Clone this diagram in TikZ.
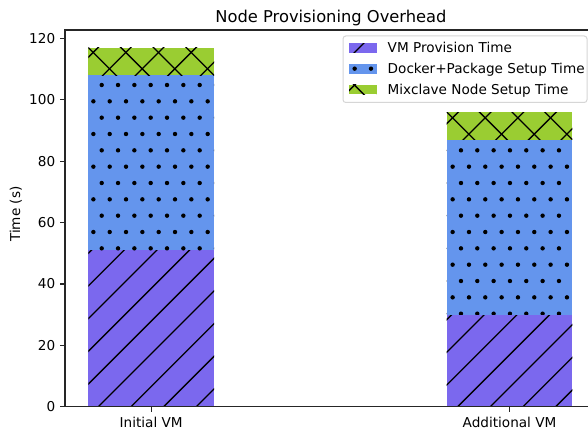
\documentclass[tikz,border=0pt]{standalone}
\usepackage{fontspec}
\setmainfont{DejaVu Sans}
\definecolor{vmcol}{HTML}{7B68EE}
\definecolor{dockcol}{HTML}{6495ED}
\definecolor{mixcol}{HTML}{9ACD32}
\definecolor{spinecol}{HTML}{262626}
\definecolor{framecol}{HTML}{D6D6D6}

\tikzset{
  hatchline/.style={black, line width=1.3pt},
  spine/.style={spinecol, line width=1.1pt},
  tickmark/.style={spinecol, line width=1.1pt},
  ticklabel/.style={inner sep=0pt, font=\fontsize{13.6}{16}\selectfont},
  legendtext/.style={inner sep=0pt, anchor=base west, font=\fontsize{13.6}{16}\selectfont},
}

% hatch fills for a box given as x0, y0 (top), x1, y1 (bottom)
\newcommand\hatchslash[4]{%
  \begin{scope}
    \clip (#1,#2) rectangle (#3,#4);
    \foreach \k in {-12,...,15} {
      \draw[hatchline] ({505+32.67*\k-450},450) -- ({505+32.67*\k+50},-50);
    }
  \end{scope}}
\newcommand\hatchcross[4]{%
  \begin{scope}
    \clip (#1,#2) rectangle (#3,#4);
    \foreach \k in {-12,...,15} {
      \draw[hatchline] ({505+32.67*\k-450},450) -- ({505+32.67*\k+50},-50);
    }
    \foreach \k in {-2,...,16} {
      \draw[hatchline] ({8+32.67*\k-50},-50) -- ({8+32.67*\k+450},450);
    }
  \end{scope}}
\newcommand\hatchdots[4]{%
  \begin{scope}
    \clip (#1,#2) rectangle (#3,#4);
    \pgfmathtruncatemacro\dia{floor((#1-101.7)/16.33)-1}
    \pgfmathtruncatemacro\dib{ceil((#3-93.37)/16.33)+1}
    \pgfmathtruncatemacro\dja{floor((#2-101.33)/32.67)-1}
    \pgfmathtruncatemacro\djb{ceil((#4-85)/32.67)+1}
    \foreach \i in {\dia,...,\dib} {
      \foreach \j in {\dja,...,\djb} {
        \fill (101.7+16.33*\i, 85+32.67*\j) circle[radius=2.2pt];
        \fill (93.37+16.33*\i, 101.33+32.67*\j) circle[radius=2.2pt];
      }
    }
  \end{scope}}

\begin{document}
\begin{tikzpicture}[x=1pt, y=-1pt]
  \useasboundingbox (0,0) rectangle (588,430);
  \fill[white] (0,0) rectangle (588,430);

  % Initial VM bar: 51 + 57 + 9
  \fill[vmcol] (88.3,250.2) rectangle (214,406.7);
  \hatchslash{88.3}{250.2}{214}{406.7}
  \fill[dockcol] (88.3,75.4) rectangle (214,250.2);
  \hatchdots{88.3}{75.4}{214}{250.2}
  \fill[mixcol] (88.3,47.7) rectangle (214,75.4);
  \hatchcross{88.3}{47.7}{214}{75.4}

  % Additional VM bar: 30 + 57 + 9
  \fill[vmcol] (446.7,314.7) rectangle (572.3,406.7);
  \hatchslash{446.7}{314.7}{572.3}{406.7}
  \fill[dockcol] (446.7,139.8) rectangle (572.3,314.7);
  \hatchdots{446.7}{139.8}{572.3}{314.7}
  \fill[mixcol] (446.7,112.2) rectangle (572.3,139.8);
  \hatchcross{446.7}{112.2}{572.3}{139.8}

  % axes frame
  \draw[spine] (65,30) -- (589,30);
  \draw[spine] (65,29.5) -- (65,407.2);
  \draw[spine] (64.5,406.7) -- (589,406.7);

  % y ticks and labels
  \foreach \v/\yy in {0/406.7, 20/345.3, 40/284.0, 60/222.6, 80/161.3, 100/99.9, 120/38.5} {
    \draw[tickmark] (60.2,\yy) -- (65,\yy);
    \node[ticklabel, anchor=east] (yt\v) at (55.4,\yy) {\v};
  }

  % x ticks and labels
  \draw[tickmark] (151.2,406.7) -- (151.2,411.5);
  \draw[tickmark] (509.5,406.7) -- (509.5,411.5);
  \node[ticklabel, anchor=north] (xt1) at (151.2,416.6) {Initial VM};
  \node[ticklabel, anchor=north] (xt2) at (509.5,416.6) {Additional VM};

  % axis label and title
  \node[ticklabel, rotate=90] (ylab) at (15.9,214.2) {Time (s)};
  \node[inner sep=0pt, anchor=base, font=\fontsize{16.3}{19}\selectfont] (title) at (331,22.4) {Node Provisioning Overhead};

  % legend
  \draw[framecol, fill=white, line width=1pt, rounded corners=2.8pt] (343,36) rectangle (587,102.5);
  \fill[vmcol] (349,43.3) rectangle (376.7,52.7);
  \hatchslash{349}{43.3}{376.7}{52.7}
  \fill[dockcol] (349,64.2) rectangle (376.7,73.6);
  \hatchdots{349}{64.2}{376.7}{73.6}
  \fill[mixcol] (349,85) rectangle (376.7,94.3);
  \hatchcross{349}{85}{376.7}{94.3}
  \node[legendtext] (lg1) at (387.5,52.7) {VM Provision Time};
  \node[legendtext] (lg2) at (387.5,73.5) {Docker+Package Setup Time};
  \node[legendtext] (lg3) at (387.5,94.3) {Mixclave Node Setup Time};
\end{tikzpicture}
\end{document}
